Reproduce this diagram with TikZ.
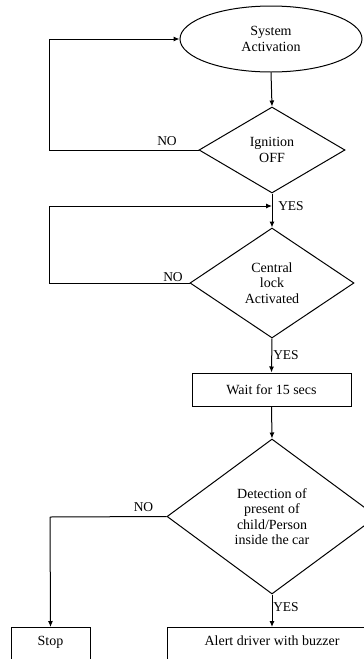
\documentclass[tikz,border=0pt]{standalone}
\usepackage{fontspec}
\setmainfont{Liberation Serif}
\usetikzlibrary{shapes.geometric,arrows.meta}
\begin{document}
\begin{tikzpicture}[x=1pt,y={(0pt,-1pt)},
  every node/.style={font=\fontsize{14}{15.5}\selectfont, align=center, inner sep=0pt},
  line/.style={draw=black, line width=1pt},
  arr/.style={line, -{Latex[length=6pt,width=5pt]}},
  dec/.style={diamond, draw=black, line width=1pt},
  boxx/.style={rectangle, draw=black, line width=1pt},
  lab/.style={font=\fontsize{13.5}{15}\selectfont}]
\useasboundingbox (0,0) rectangle (364,659);
\clip (0,0) rectangle (364,659);
\fill[white] (0,0) rectangle (364,659);

\node[ellipse, draw=black, line width=1pt, minimum width=182pt, minimum height=66pt] (e) at (271,39) {System\\Activation};
\node[dec, minimum width=146pt, minimum height=86pt] (d1) at (272,150) {Ignition\\OFF};
\node[dec, minimum width=164pt, minimum height=110pt] (d2) at (272,283) {Central\\lock\\Activated};
\node[boxx, minimum width=159pt, minimum height=33pt] (w) at (271.5,389.5) {Wait for 15 secs};
\node[dec, minimum width=210pt, minimum height=155pt] (d3) at (272,516.5) {Detection of\\present of\\child/Person\\inside the car};
\node[boxx, anchor=north, minimum width=79pt, text height=18pt, text depth=22pt] (stop) at (50.5,627) {Stop};
\node[boxx, anchor=north, minimum width=210pt, text height=18pt, text depth=22pt] (alert) at (272,627) {Alert driver with buzzer};

\coordinate (j1) at (272,206);
\coordinate (c1) at (49,150);
\coordinate (c2) at (49,283);
\coordinate (c3) at (50,517);

\draw[arr] (e.south) -- (d1.north);
\draw[line] (d1.west) -- (c1);
\draw[arr] (c1) |- (e.west);
\draw[arr] (d1.south) -- (d2.north);
\draw[line] (d2.west) -- (c2);
\draw[arr] (c2) |- (j1);
\draw[arr] (d2.south) -- (w.north);
\draw[arr] (w.south) -- (d3.north);
\draw[line] (d3.west) -- (c3);
\draw[arr] (c3) -- (stop.north);
\draw[arr] (d3.south) -- (alert.north);

\node[lab] (no1) at (167,141) {NO};
\node[lab] (yes1) at (291,206) {YES};
\node[lab] (no2) at (173,277) {NO};
\node[lab] (yes2) at (286,355) {YES};
\node[lab] (no3) at (143.5,507) {NO};
\node[lab] (yes3) at (286,607) {YES};
\end{tikzpicture}
\end{document}
